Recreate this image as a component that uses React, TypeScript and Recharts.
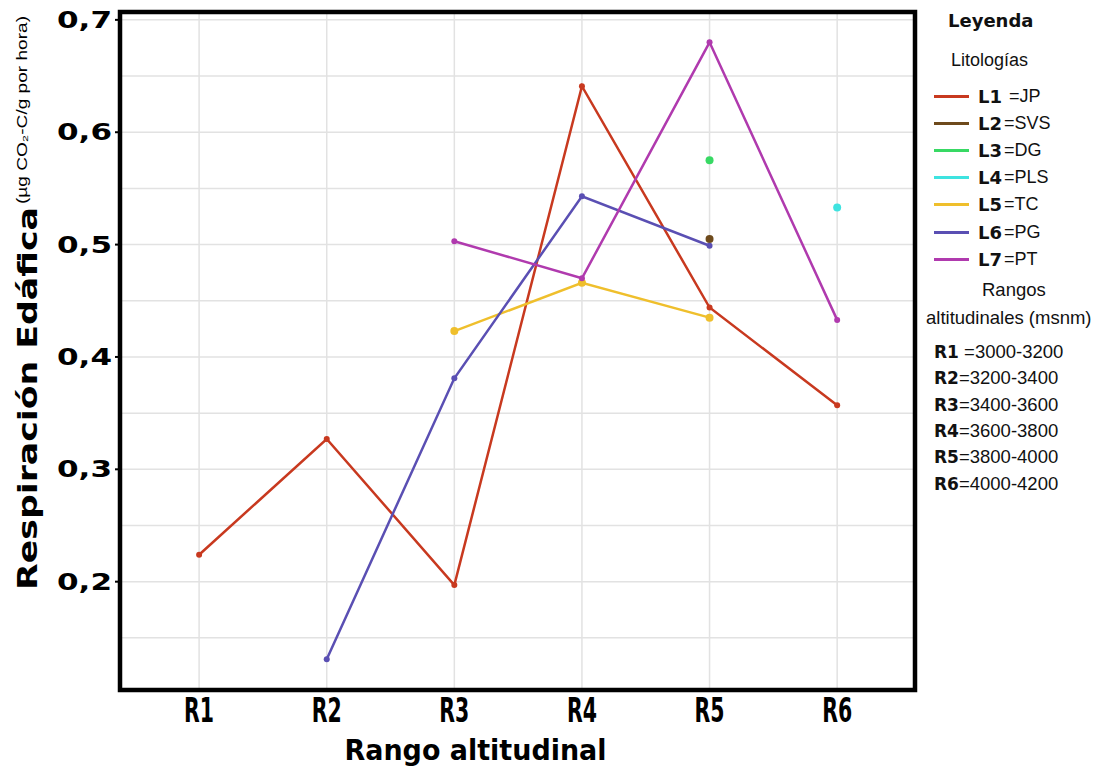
import {
  CartesianGrid,
  Line,
  LineChart,
  ReferenceArea,
  XAxis,
  YAxis,
} from "recharts";

const categories = ["R1", "R2", "R3", "R4", "R5", "R6"];
const L1 = [0.224, 0.327, 0.197, 0.641, 0.444, 0.357];
const L2 = [null, null, null, null, 0.505, null];
const L3 = [null, null, null, null, 0.575, null];
const L4 = [null, null, null, null, null, 0.533];
const L5 = [null, null, 0.423, 0.466, 0.435, null];
const L6 = [null, 0.131, 0.381, 0.543, 0.499, null];
const L7 = [null, null, 0.503, 0.47, 0.68, 0.433];

const yTicks = [0.2, 0.3, 0.4, 0.5, 0.6, 0.7];
const yGrid = [0.15, 0.2, 0.25, 0.3, 0.35, 0.4, 0.45, 0.5, 0.55, 0.6, 0.65, 0.7];
const rangos = ["3000-3200", "3200-3400", "3400-3600", "3600-3800", "3800-4000", "4000-4200"];

const series = [
  { key: "L1", name: "JP", color: "#c8391f", values: L1, r: 3 },
  { key: "L2", name: "SVS", color: "#6e4a1c", values: L2, r: 4 },
  { key: "L3", name: "DG", color: "#38d964", values: L3, r: 4 },
  { key: "L4", name: "PLS", color: "#3ee3e0", values: L4, r: 4 },
  { key: "L5", name: "TC", color: "#efbf2c", values: L5, r: 4 },
  { key: "L6", name: "PG", color: "#5a4fb3", values: L6, r: 3 },
  { key: "L7", name: "PT", color: "#b03aae", values: L7, r: 3 },
];

const data = categories.map((c, i) => {
  const row: Record<string, number | string | null> = { x: i + 1, cat: c };
  series.forEach((s) => (row[s.key] = s.values[i]));
  return row;
});

const X_DOMAIN = [0.38, 6.61];
const Y_DOMAIN = [0.1036, 0.707];
const heavy = "'DejaVu Sans', sans-serif";
const plain = "'Liberation Sans', Arial, sans-serif";

// squeezed heavy labels, the original face is a narrow black geometric font
function XTick({ x, y, payload }: any) {
  return (
    <text
      x={x}
      y={y + 24}
      textAnchor="middle"
      fontFamily={heavy}
      fontWeight={700}
      fontSize={33}
      fill="#000"
      textLength={30}
      lengthAdjust="spacingAndGlyphs"
    >
      {categories[payload.value - 1]}
    </text>
  );
}

function YTick({ x, y, payload }: any) {
  return (
    <text
      x={x - 56}
      y={y + 8}
      fontFamily={heavy}
      fontWeight={700}
      fontSize={23}
      fill="#000"
      textLength={55}
      lengthAdjust="spacingAndGlyphs"
    >
      {payload.value.toFixed(1).replace(".", ",")}
    </text>
  );
}

function XLabel({ viewBox }: any) {
  const cx = viewBox.x + viewBox.width / 2 - 42;
  return (
    <text
      x={cx}
      y={752}
      textAnchor="middle"
      fontFamily={heavy}
      fontWeight={700}
      fontSize={29}
      fill="#000"
      textLength={262}
      lengthAdjust="spacingAndGlyphs"
    >
      Rango altitudinal
    </text>
  );
}

function YLabel() {
  return (
    <g fill="#000">
      <text
        transform="translate(29, 582) rotate(-90)"
        fontFamily={heavy}
        fontWeight={700}
        fontSize={27}
        textLength={383}
        lengthAdjust="spacingAndGlyphs"
      >
        Respiración Edáfica
      </text>
      <text
        transform="translate(19, 196) rotate(-90)"
        fontFamily={plain}
        fontSize={14}
        textLength={188}
        lengthAdjust="spacingAndGlyphs"
      >
        (µg CO₂-C/g por hora)
      </text>
    </g>
  );
}

function SideLegend() {
  return (
    <div
      style={{
        position: "absolute",
        left: 908,
        top: 0,
        width: 186,
        fontFamily: plain,
        color: "#111",
      }}
    >
      <div style={{ position: "absolute", left: 32, top: 2, fontFamily: heavy, fontWeight: 700, fontSize: 18 }}>
        Leyenda
      </div>
      <div style={{ position: "absolute", left: 35, top: 42, fontSize: 18 }}>Litologías</div>
      {series.map((s, i) => (
        <div
          key={s.key}
          style={{ position: "absolute", left: 18, top: 77 + i * 27.2, height: 22, display: "flex", alignItems: "center" }}
        >
          <span style={{ width: 35, height: 3, background: s.color, display: "inline-block" }} />
          <span style={{ marginLeft: 9, fontFamily: heavy, fontWeight: 700, fontSize: 18, width: 26 }}>{s.key}</span>
          <span style={{ marginLeft: s.key === "L1" ? 5 : 0, fontSize: 18 }}>={s.name}</span>
        </div>
      ))}
      <div style={{ position: "absolute", left: 66, top: 271, fontSize: 18.5 }}>Rangos</div>
      <div style={{ position: "absolute", left: 10, top: 299, fontSize: 18.5, whiteSpace: "nowrap" }}>
        altitudinales (msnm)
      </div>
      {categories.map((c, i) => (
        <div
          key={c}
          style={{ position: "absolute", left: 18, top: 333 + i * 26.3, fontSize: 18.5, whiteSpace: "nowrap" }}
        >
          <span style={{ fontFamily: heavy, fontWeight: 700, fontSize: 17 }}>{c}</span>
          {i === 0 ? " " : ""}={rangos[i]}
        </div>
      ))}
    </div>
  );
}

export default function App() {
  return (
    <div style={{ position: "relative", width: 1094, height: 761 }}>
      <LineChart
        width={1094}
        height={761}
        data={data}
        margin={{ top: 4, right: 187, bottom: 0, left: 0 }}
      >
        <CartesianGrid
          stroke="#e2e2e2"
          strokeWidth={1.5}
          horizontalValues={yGrid}
          verticalValues={[1, 2, 3, 4, 5, 6]}
        />
        <XAxis
          dataKey="x"
          type="number"
          domain={X_DOMAIN}
          ticks={[1, 2, 3, 4, 5, 6]}
          height={79}
          axisLine={false}
          tickLine={false}
          tick={<XTick />}
          allowDataOverflow
          label={<XLabel />}
        />
        <YAxis
          type="number"
          domain={Y_DOMAIN}
          ticks={yTicks}
          width={112}
          allowDataOverflow
          axisLine={false}
          tickLine={{ stroke: "#000", strokeWidth: 2 }}
          tickSize={5}
          tick={<YTick />}
          label={<YLabel />}
        />
        {series.map((s) => (
          <Line
            key={s.key}
            dataKey={s.key}
            name={s.name}
            stroke={s.color}
            strokeWidth={2.5}
            dot={{ r: s.r, fill: s.color, stroke: s.color, strokeWidth: 0 }}
            activeDot={false}
            isAnimationActive={false}
          />
        ))}
        <ReferenceArea
          x1={X_DOMAIN[0]}
          x2={X_DOMAIN[1]}
          y1={Y_DOMAIN[0]}
          y2={Y_DOMAIN[1]}
          fill="none"
          stroke="#000"
          strokeWidth={4.5}
          ifOverflow="visible"
        />
      </LineChart>
      <SideLegend />
    </div>
  );
}
